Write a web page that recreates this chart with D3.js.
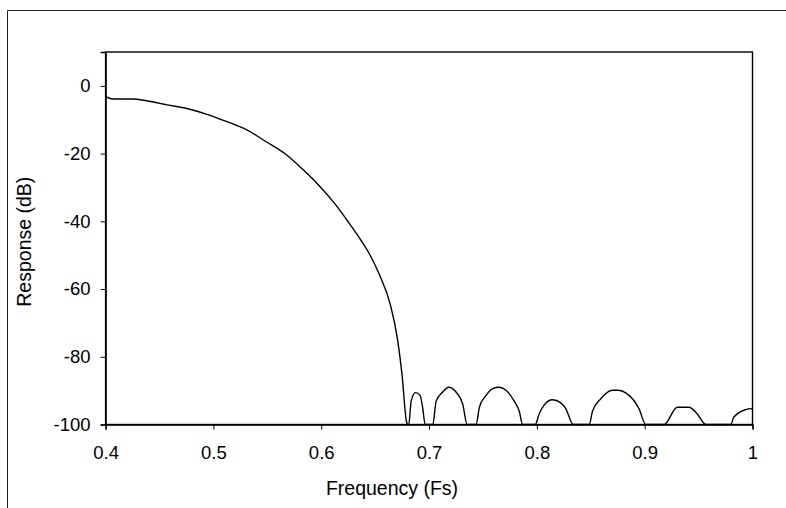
<!DOCTYPE html>
<html>
<head>
<meta charset="utf-8">
<script src="https://cdn.jsdelivr.net/npm/d3@7"></script>
<style>
  html, body { margin: 0; padding: 0; background: #fff; }
  svg { display: block; }
  text { font-family: "Liberation Sans", Arial, sans-serif; fill: #000; }
</style>
</head>
<body>
<svg id="chart" width="786" height="508"></svg>
<script>
// Frequency (Fs) and response (dB)
const freq = [
  0.400, 0.405, 0.410, 0.425, 0.438, 0.457, 0.478, 0.494, 0.512, 0.531,
  0.549, 0.568, 0.580, 0.586, 0.599, 0.611, 0.617, 0.626, 0.636, 0.645,
  0.654, 0.664, 0.671, 0.675, 0.679, 0.680,
  0.6812, 0.6834, 0.6874, 0.6917, 0.6940, 0.6964,
  0.7035, 0.7066, 0.7127, 0.7183, 0.7250, 0.7312, 0.7353,
  0.7436, 0.7467, 0.7529, 0.7590, 0.7652, 0.7714, 0.7790, 0.7837, 0.7868,
  0.7985, 0.8022, 0.8069, 0.8145, 0.8223, 0.8269, 0.8337,
  0.8485, 0.8516, 0.8593, 0.8701, 0.8747, 0.8855, 0.8948, 0.9010,
  0.9180, 0.9303, 0.9411, 0.9488, 0.9566,
  0.9797, 0.9828, 0.9936, 0.9980, 1.0000
];
const response = [
  -3.2, -3.8, -3.9, -3.9, -4.4, -5.6, -6.9, -8.4, -10.5, -13.0,
  -16.5, -20.4, -23.8, -25.6, -29.8, -34.2, -36.6, -40.6, -45.2, -49.8,
  -55.8, -64.5, -75.3, -85.5, -99.0, -100,
  -100, -93.1, -90.6, -91.4, -94.9, -100,
  -100, -93.1, -90.4, -89.0, -90.4, -93.9, -100,
  -100, -94.9, -91.4, -89.4, -89.0, -89.9, -93.1, -96.1, -100,
  -100, -96.8, -94.2, -92.7, -93.6, -95.4, -100,
  -100, -96.1, -92.4, -89.9, -89.9, -91.4, -95.4, -100,
  -100, -94.9, -94.9, -96.9, -100,
  -100, -97.8, -95.6, -95.3, -95.5
];
const xTicks = [0.4, 0.5, 0.6, 0.7, 0.8, 0.9, 1.0];
const xTickLabels = ["0.4", "0.5", "0.6", "0.7", "0.8", "0.9", "1"];
const yTicks = [0, -20, -40, -60, -80, -100];
const yTickLabels = ["0", "-20", "-40", "-60", "-80", "-100"];
const xTitle = "Frequency (Fs)";
const yTitle = "Response (dB)";

const svg = d3.select("#chart");
const L = 105.6, R = 752.5, T = 52, B = 424.5;

const x = d3.scaleLinear().domain([0.4, 1.0]).range([L, R]);
const y = d3.scaleLinear().domain([-100, 10]).range([B, T]);

// outer chart frame
svg.append("path")
  .attr("d", `M7.5,508 L7.5,10.5 L786,10.5`)
  .attr("fill", "none").attr("stroke", "#222").attr("stroke-width", 1);

// plot area frame
svg.append("rect")
  .attr("x", L).attr("y", T).attr("width", R - L).attr("height", B - T)
  .attr("fill", "none").attr("stroke", "#000").attr("stroke-width", 1.4);

const font = '"Liberation Sans", Arial, sans-serif';

// axes
const xAxis = d3.axisBottom(x).tickValues(xTicks)
  .tickFormat((d, i) => xTickLabels[i]).tickSize(5).tickPadding(16.5);
const gx = svg.append("g").attr("transform", `translate(0,${B})`).call(xAxis);
gx.select(".domain").attr("stroke-width", 1.4);
gx.selectAll(".tick line").attr("stroke", "#000");
gx.selectAll("text").style("font-size", "18.5px")
  .style("font-family", font).attr("fill", "#000");

const yAxis = d3.axisLeft(y).tickValues(yTicks)
  .tickFormat((d, i) => yTickLabels[i]).tickSize(5).tickPadding(10);
const gy = svg.append("g").attr("transform", `translate(${L},0)`).call(yAxis);
gy.select(".domain").attr("stroke-width", 1.4);
gy.selectAll(".tick line").attr("stroke", "#000");
gy.selectAll("text").style("font-size", "18.5px")
  .style("font-family", font).attr("fill", "#000");

// titles
svg.append("text")
  .attr("x", 392).attr("y", 495)
  .attr("text-anchor", "middle")
  .style("font-size", "19.5px")
  .text(xTitle);

svg.append("text")
  .attr("transform", `translate(30.5,241.7) rotate(-90)`)
  .attr("text-anchor", "middle")
  .style("font-size", "19.5px")
  .text(yTitle);

// response curve
const pts = freq.map((f, i) => [f, response[i]]);
svg.append("path")
  .datum(pts)
  .attr("fill", "none")
  .attr("stroke", "#000")
  .attr("stroke-width", 1.4)
  .attr("stroke-linejoin", "round")
  .attr("d", d3.line().x(d => x(d[0])).y(d => y(d[1])).curve(d3.curveMonotoneX));
</script>
</body>
</html>
